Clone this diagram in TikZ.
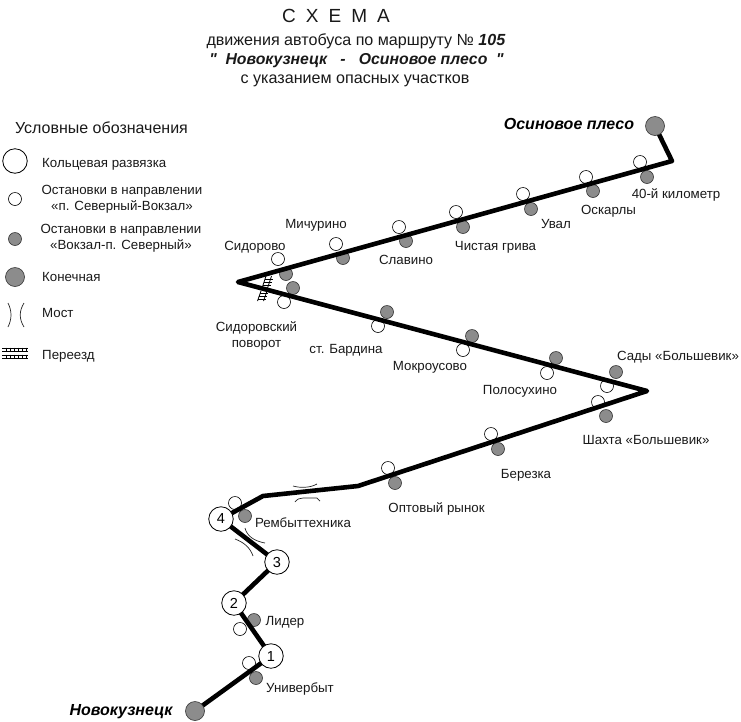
\documentclass[tikz,border=0pt]{standalone}
\usepackage{fontspec}
\setmainfont{Liberation Sans}
\newfontfamily\qf{Liberation Sans}
\begin{document}
\begin{tikzpicture}[x=1pt,y=-1pt,
  route/.style={line width=4.6pt,line join=round,line cap=round,black},
  thin line/.style={line width=0.7pt,black!85},
  stopw/.style={circle,draw=black,line width=0.6pt,fill=white,minimum size=13pt,inner sep=0pt},
  stopg/.style={circle,draw=black!80,line width=0.6pt,fill=black!45,minimum size=13pt,inner sep=0pt},
  term/.style={circle,draw=black!80,line width=0.6pt,fill=black!45,minimum size=19pt,inner sep=0pt},
  ring/.style={circle,draw=black,line width=0.8pt,fill=white,minimum size=24.5pt,inner sep=0pt,font=\fontsize{14.5}{15}\selectfont},
  lab/.style={font=\fontsize{13.3}{16}\selectfont,inner sep=0pt,align=center,text=black!90,yshift=-1pt},
  bl/.style={lab,anchor=base},
  leg/.style={lab,font=\fontsize{13.3}{16}\selectfont},
  legw/.style={leg,anchor=base west},
  head/.style={inner sep=0pt,anchor=base,font=\fontsize{16.1}{18}\selectfont,text=black!90,yshift=-1pt},
  bname/.style={inner sep=0pt,anchor=base,font=\fontsize{16}{18}\selectfont\bfseries\itshape,yshift=-1pt}]
\useasboundingbox (0,0) rectangle (741,721);
% titles
\node[head,font=\fontsize{19}{20}\selectfont] (t0) at (336,21) {С\hspace{10pt}Х\hspace{10pt}Е\hspace{10pt}М\hspace{10pt}А};
\node[head] (t1) at (356,44) {движения автобуса по маршруту № \textbf{\textit{105}}};
\node[head,font=\fontsize{15.8}{18}\selectfont\bfseries\itshape] (t2) at (356.5,63.5) {{\qf "}\ \ Новокузнецк\ \ \ -\ \ \ Осиновое плесо\ \ {\qf "}};
\node[head] (t3) at (355,82) {с указанием опасных участков};
% route points
\coordinate (a0) at (195,711);
\coordinate (r1c) at (271,656);
\coordinate (r2c) at (234,603);
\coordinate (r3c) at (277,562);
\coordinate (r4c) at (221,519);
\coordinate (b1) at (263,496);
\coordinate (b2) at (358,486);
\coordinate (b3) at (647,391);
\coordinate (b4) at (238,282);
\coordinate (b5) at (672,161);
\coordinate (a1) at (655,126);
% level crossing
\foreach \xa/\ya/\xb/\yb in {266/276/262/288,271.5/276/267.5/288,261/291/257.5/301,267/291/263.5/301}
  \draw[line width=0.8pt] (\xa,\ya) -- (\xb,\yb);
\foreach \xa/\xb/\yy in {264.5/272.5/279,263.5/271.5/282,262.5/270.5/285,259.5/268/293.5,258.5/267/296.5,257.5/266/299.5}
  \draw[line width=0.7pt] (\xa,\yy) -- (\xb,\yy);
% bridges
\draw[thin line] (293,486) .. controls (300,488) and (310,488) .. (317,484);
\draw[thin line] (295,502) .. controls (297,499) and (300,498) .. (303,498) -- (317,498) -- (320,501);
\draw[thin line] (235,539) .. controls (243,542) and (250,547) .. (253,556);
\draw[thin line] (245,528) .. controls (247,536) and (254,541) .. (265,543);
% stops
\foreach \n/\x/\y in {w1/249/663,w2/240/629,w3/235/503,w4/388/468,w5/491/434,w6/598/402,w7/607/386,w8/547/373,w9/463/350,w10/378/326,w11/284/302,w12/278/259,w13/336/244,w14/399/227,w15/456/212,w16/523/194,w17/586/177,w18/640/162}
  \node[stopw] (\n) at (\x,\y) {};
\foreach \n/\x/\y in {g1/256/678,g2/254/620,g3/245/516,g4/395/483,g5/498/449,g6/606/416,g7/616/372,g8/556/358,g9/472/336,g10/387/312,g11/293/288,g12/286/274,g13/343/258,g14/406/241,g15/463/227,g16/531/209,g17/593/191,g18/647/177}
  \node[stopg] (\n) at (\x,\y) {};
\draw[route] (a0) -- (r1c) -- (r2c) -- (r3c) -- (r4c) -- (b1) -- (b2) -- (b3) -- (b4) -- (b5) -- (a1);
% rings and terminals
\node[ring] (r1) at (r1c) {1};
\node[ring] (r2) at (r2c) {2};
\node[ring] (r3) at (r3c) {3};
\node[ring] (r4) at (r4c) {4};
\node[term] (tA) at (a0) {};
\node[term] (tB) at (a1) {};
% stop names
\node[bname] (nA) at (121,714.5) {Новокузнецк};
\node[bname] (nB) at (569,128.5) {Осиновое плесо};
\node[bl] at (300,691.5) {Универбыт};
\node[bl] at (285,624.5) {Лидер};
\node[bl] at (303,526.5) {Рембыттехника};
\node[bl] at (436.5,511.5) {Оптовый рынок};
\node[bl] at (526,477.5) {Березка};
\node[bl] at (646,443.5) {Шахта «Большевик»};
\node[bl] at (678,359.5) {Сады «Большевик»};
\node[bl] at (520,393.5) {Полосухино};
\node[bl] at (430,369.5) {Мокроусово};
\node[bl] at (346,352.5) {ст. Бардина};
\node[lab] at (256.5,334.5) {Сидоровский\\поворот};
\node[bl] at (255,249.5) {Сидорово};
\node[bl] at (316,227.5) {Мичурино};
\node[bl] at (406,263.5) {Славино};
\node[bl] at (495.5,249.5) {Чистая грива};
\node[bl] at (556,227.5) {Увал};
\node[bl] at (608.5,213.5) {Оскарлы};
\node[bl] at (676,197.5) {40-й километр};
% legend
\node[head,font=\fontsize{16}{18}\selectfont] (lt) at (101.5,132) {Условные обозначения};
\node[ring] (l1) at (15,161) {};
\node[stopw] (l2) at (15,199) {};
\node[stopg] (l3) at (15,239) {};
\node[term] (l4) at (15,277) {};
\draw[thin line] (8,303) .. controls (12,311) and (12,319) .. (8,327);
\draw[thin line] (24,303) .. controls (19,311) and (19,319) .. (24,327);
\foreach \yy in {348,351,355,358}{\draw[line width=0.7pt] (2,\yy) -- (28,\yy);}
\foreach \xx in {6,10,14,18,22,26}{\draw[line width=0.6pt] (\xx,347.5) -- (\xx,351.5);\draw[line width=0.6pt] (\xx,354.5) -- (\xx,358.5);}
\node[legw] at (42,166.5) {Кольцевая развязка};
\node[leg] at (122,198.7) {Остановки в направлении\\«п. Северный-Вокзал»};
\node[leg] at (121,237.7) {Остановки в направлении\\«Вокзал-п. Северный»};
\node[legw] at (42,280.5) {Конечная};
\node[legw] at (42,316.5) {Мост};
\node[legw] at (42,358.5) {Переезд};
\end{tikzpicture}
\end{document}
